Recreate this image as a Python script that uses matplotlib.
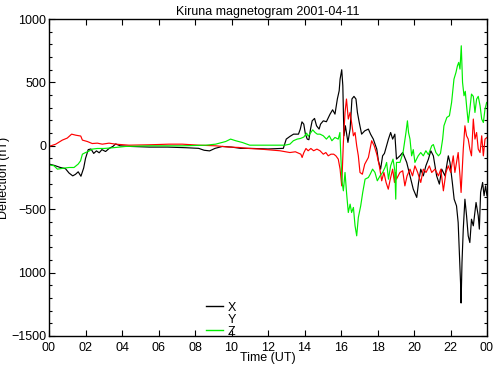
import numpy as np
import matplotlib.pyplot as plt
from matplotlib.ticker import MultipleLocator
from matplotlib.lines import Line2D

# Kiruna magnetogram 2001-04-11 (nT)
x_time = [0.0, 0.3, 0.6, 0.9, 1.1, 1.3, 1.45, 1.6, 1.75, 1.9, 2.0, 2.15, 2.3, 2.45,
          2.6, 2.75, 2.9, 3.1, 3.3, 3.5, 3.65, 3.9, 4.5, 5.5, 6.5, 7.5, 8.2, 8.5,
          8.8, 9.1, 9.5, 10.0, 10.5, 11.0, 12.0, 12.84, 13.0, 13.2, 13.4, 13.67,
          13.77, 13.86, 13.96, 14.05, 14.15, 14.24, 14.33, 14.42, 14.55, 14.66,
          14.8, 14.88, 15.03, 15.2, 15.4, 15.54, 15.67, 15.8, 15.9, 15.95, 16.04,
          16.1, 16.16, 16.24, 16.38, 16.5, 16.6, 16.71, 16.82, 16.9, 17.0, 17.13,
          17.3, 17.5, 17.62, 17.77, 17.96, 18.05, 18.17, 18.28, 18.38, 18.5,
          18.6, 18.72, 18.83, 18.95, 19.04, 19.23, 19.38, 19.6, 19.78, 19.96,
          20.15, 20.25, 20.37, 20.51, 20.65, 20.79, 20.92, 21.06, 21.24, 21.39,
          21.52, 21.7, 21.88, 21.97, 22.1, 22.2, 22.33, 22.42, 22.49, 22.55,
          22.58, 22.63, 22.7, 22.79, 22.88, 22.97, 23.06, 23.15, 23.25, 23.4,
          23.52, 23.58, 23.65, 23.76, 23.84, 23.92, 24.0]
x_vals = [-144, -155, -170, -180, -215, -237, -225, -205, -240, -175, -100, -30, -25, -60,
          -40, -55, -30, -45, -20, -5, 15, 0, -5, -10, -10, -15, -20, -35,
          -40, -20, -5, -10, -20, -20, -25, -20, 53, 74, 92, 92,
          132, 189, 171, 92, 53, 48, 132, 197, 216, 158,
          132, 171, 197, 190, 250, 284, 250, 369, 434, 526, 600,
          474, 79, 158, 27, 134, 370, 390, 369, 263, 184, 92,
          118, 132, 92, 53, -26, -118, -184, -79, -60, 0,
          53, 105, 53, 92, -105, -79, -53, -131, -237, -342,
          -407, -289, -184, -237, -158, -105, -39, -79, -237, -302,
          -184, -237, -79, -131, -289, -421, -474, -605, -868, -1078,
          -1240, -920, -657, -421, -552, -710, -763, -579, -631, -447,
          -552, -657, -368, -289, -394, -316, -394]

y_time = [0.0, 0.37, 0.73, 1.0, 1.24, 1.46, 1.74, 1.83, 2.1, 2.37, 2.65, 2.92, 3.29,
          3.65, 4.38, 5.48, 6.58, 7.3, 8.2, 9.13, 9.86, 10.4, 10.96, 11.5, 12.65,
          13.2, 13.5, 13.8, 13.87, 13.96, 14.08, 14.2, 14.35, 14.5, 14.68, 14.85,
          15.03, 15.17, 15.3, 15.45, 15.6, 15.72, 15.85, 15.95, 16.04, 16.13,
          16.22, 16.3, 16.4, 16.5, 16.58, 16.68, 16.77, 16.86, 16.95, 17.04,
          17.17, 17.3, 17.5, 17.68, 17.82, 17.96, 18.1, 18.23, 18.35, 18.47,
          18.59, 18.7, 18.83, 18.93, 18.98, 19.04, 19.23, 19.38, 19.5, 19.62,
          19.78, 19.92, 20.05, 20.2, 20.37, 20.51, 20.66, 20.84, 20.97, 21.15,
          21.34, 21.47, 21.61, 21.75, 21.88, 22.01, 22.15, 22.24, 22.33, 22.42,
          22.52, 22.58, 22.7, 22.79, 22.88, 22.97, 23.06, 23.15, 23.25, 23.34,
          23.43, 23.52, 23.62, 23.71, 23.8, 23.89, 24.0]
y_vals = [-5, 13, 45, 61, 92, 84, 77, 45, 34, 18, 21, 13, 21,
          13, 5, 8, 13, 13, 5, 0, -10, -13, -21, -25, -39,
          -53, -47, -66, -92, -55, -21, -39, -21, -39, -26, -39,
          -66, -53, -79, -66, -66, -79, -105, -184, -316, 27,
          263, 369, 211, 263, 184, 79, 105, 0, -79, -210,
          -224, -145, -92, 40, 0, -66, -158, -276, -210, -289,
          -342, -263, -184, -289, -210, -263, -210, -197, -316, -237,
          -184, -237, -158, -210, -289, -184, -210, -158, -210, -184,
          -237, -184, -355, -210, -158, -210, -79, -210, -131, -53,
          -237, -368, -26, 158, 79, 53, -26, -79, 211, 53,
          105, -26, -53, 79, -79, 53, 66]

z_time = [0.0, 0.27, 0.46, 0.82, 1.1, 1.37, 1.6, 1.73, 1.83, 2.0, 2.15, 2.37, 2.65,
          3.0, 3.3, 3.65, 4.2, 5.5, 7.3, 8.6, 9.13, 9.68, 9.95, 10.23, 10.6,
          11.0, 12.0, 12.93, 13.2, 13.39, 13.6, 13.78, 13.96, 14.12, 14.2, 14.3,
          14.45, 14.58, 14.7, 14.85, 15.03, 15.2, 15.36, 15.5, 15.67, 15.85,
          15.94, 15.99, 16.05, 16.13, 16.22, 16.31, 16.4, 16.5, 16.58, 16.68,
          16.77, 16.86, 16.95, 17.08, 17.19, 17.32, 17.5, 17.6, 17.73, 17.86,
          17.99, 18.14, 18.28, 18.41, 18.5, 18.6, 18.72, 18.85, 18.95, 19.0,
          19.04, 19.23, 19.4, 19.56, 19.64, 19.7, 19.78, 19.87, 19.96, 20.05,
          20.23, 20.37, 20.51, 20.65, 20.79, 20.97, 21.06, 21.2, 21.34, 21.45,
          21.57, 21.64, 21.8, 21.94, 22.06, 22.19, 22.3, 22.38, 22.45, 22.52,
          22.59, 22.66, 22.74, 22.81, 22.88, 22.97, 23.06, 23.15, 23.25, 23.34,
          23.43, 23.52, 23.62, 23.71, 23.8, 23.89, 23.98]
z_vals = [-150, -157, -184, -176, -171, -171, -144, -118, -66, -53, -45, -26, -21,
          -21, -18, -13, -5, 0, 0, 5, 13, 34, 53, 40, 26,
          5, 5, 5, 13, 40, 53, 58, 69, 100, 75, 95,
          126, 105, 92, 92, 79, 53, 79, 40, 66, 53,
          105, -79, -276, -355, -210, -381, -526, -460, -526, -486,
          -631, -710, -565, -473, -368, -263, -250, -224, -184, -210,
          -276, -237, -210, -171, -131, -263, -158, -105, -197, -421,
          -131, -131, -53, 105, 197, 105, 53, -79, -30, -131,
          -79, -53, -79, -39, -70, 0, 10, -53, -79, -60,
          53, 158, 224, 237, 342, 526, 579, 631, 658, 605,
          789, 500, 395, 430, 316, 184, 289, 408, 390, 263,
          368, 390, 316, 211, 184, 289, 342]

hour_ticks = np.arange(0, 25, 2)
hour_labels = ["00", "02", "04", "06", "08", "10", "12", "14", "16", "18", "20", "22", "00"]
defl_ticks = [-1500, -1000, -500, 0, 500, 1000]
defl_labels = ["\u22121500", "1000", "\u2212500", "0", "500", "1000"]

plt.rcParams["font.family"] = ["Liberation Sans", "DejaVu Sans"]
plt.rcParams["font.size"] = 9

fig = plt.figure(figsize=(5.0, 3.66), dpi=100)
ax = fig.add_axes([0.098, 0.082, 0.876, 0.866])

ax.plot(x_time, x_vals, color="black", lw=0.85)
ax.plot(y_time, y_vals, color="red", lw=0.85)
ax.plot(z_time, z_vals, color="#00ee00", lw=0.85)

ax.set_xlim(0, 24)
ax.set_ylim(-1500, 1000)
ax.set_xticks(hour_ticks)
ax.set_xticklabels(hour_labels)
ax.set_yticks(defl_ticks)
ax.set_yticklabels(defl_labels)
ax.yaxis.set_minor_locator(MultipleLocator(100))
ax.tick_params(which="both", direction="in", top=True, right=True, width=0.8)
ax.tick_params(axis="y", pad=2)
ax.tick_params(axis="x", pad=4)
ax.tick_params(which="major", length=4)
ax.tick_params(which="minor", length=2.5)
for s in ax.spines.values():
    s.set_linewidth(1.0)

ax.set_title("Kiruna magnetogram 2001-04-11", fontsize=9, pad=3)
ax.set_xlabel("Time (UT)", labelpad=-1)
ax.set_ylabel("Deflection (nT)")
ax.yaxis.set_label_coords(-0.088, 0.5)

handles = [Line2D([], [], color="black", lw=1), Line2D([], [], color="white", lw=1),
           Line2D([], [], color="#00ee00", lw=1)]
ax.legend(handles, ["X", "Y", "Z"], loc="lower left", bbox_to_anchor=(0.345, -0.025),
          frameon=False, handlelength=1.3, handletextpad=0.4, labelspacing=0.0,
          borderpad=0, fontsize=9)

fig.savefig("out.png", dpi=100)
